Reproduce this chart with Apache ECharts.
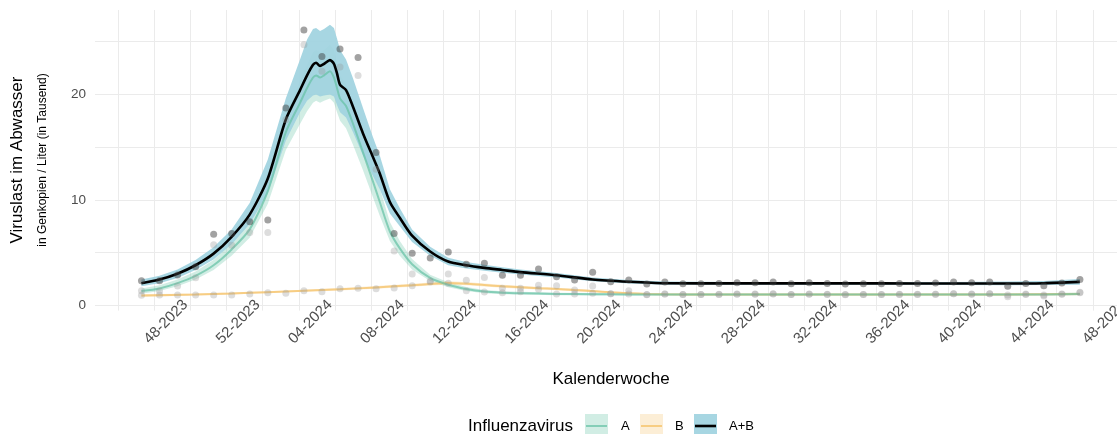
<!DOCTYPE html>
<html>
<head>
<meta charset="utf-8">
<script src="https://cdn.jsdelivr.net/npm/echarts@6/dist/echarts.min.js"></script>
<style>
  html, body { margin: 0; padding: 0; background: #fff; }
  #chart { width: 1117px; height: 434px; }
</style>
</head>
<body>
<div id="chart"></div>
<script>
// Kalenderwochen der Proben (Probenahme jeweils Mittwoch)
const weekLabels = [
  '47-2023', '48-2023', '49-2023', '50-2023', '51-2023', '52-2023',
  '01-2024', '02-2024', '03-2024', '04-2024', '05-2024', '06-2024', '07-2024', '08-2024',
  '09-2024', '10-2024', '11-2024', '12-2024', '13-2024', '14-2024', '15-2024', '16-2024',
  '17-2024', '18-2024', '19-2024', '20-2024', '21-2024', '22-2024', '23-2024', '24-2024',
  '25-2024', '26-2024', '27-2024', '28-2024', '29-2024', '30-2024', '31-2024', '32-2024',
  '33-2024', '34-2024', '35-2024', '36-2024', '37-2024', '38-2024', '39-2024', '40-2024',
  '41-2024', '42-2024', '43-2024', '44-2024', '45-2024', '46-2024', '47-2024'
];
const tickLabels = ['48-2023', '52-2023', '04-2024', '08-2024', '12-2024', '16-2024', '20-2024',
  '24-2024', '28-2024', '32-2024', '36-2024', '40-2024', '44-2024', '48-2024'];
const sampleDay = 2 / 7;

// gemessene Werte (Tausend Genkopien / Liter)
const pointsAB = [2.33, 2.33, 2.87, 3.66, 6.73, 6.82, 7.93, 8.08, 18.7, 26.1, 23.6, 24.3, 23.5, 14.5,
  6.82, 4.93, 4.48, 5.05, 3.89, 3.98, 2.84, 2.84, 3.44, 2.71, 2.4, 3.13, 2.24, 2.4, 2.02, 2.2,
  2.05, 2.05, 2.08, 2.14, 2.14, 2.2, 2.05, 2.14, 2.08, 2.02, 2.05, 2.05, 2.08, 2.08, 2.11, 2.2,
  2.14, 2.2, 1.8, 2.08, 1.86, 2.11, 2.46];
const pointsA = [1.38, 1.35, 1.83, 2.62, 5.75, 5.7, 6.9, 6.9, 17.6, 24.7, 22.2, 22.6, 21.8, 12.9,
  5.15, 2.97, 2.3, 2.97, 1.38, 1.26, 1.2, 1.29, 1.52, 1.07, 1.07, 1.14, 1.1, 1.07, 1.0, 1.07,
  1.03, 1.03, 1.05, 1.07, 1.07, 1.1, 1.03, 1.07, 1.05, 1.0, 1.03, 1.03, 1.05, 1.05, 1.06, 1.1,
  1.08, 1.1, 0.82, 1.07, 0.88, 1.07, 1.2];
const pointsB = [0.95, 0.98, 0.98, 0.98, 0.98, 0.98, 1.07, 1.2, 1.14, 1.38, 1.29, 1.57, 1.61, 1.57,
  1.64, 1.86, 2.2, 2.09, 2.37, 2.65, 1.61, 1.61, 1.9, 1.86, 1.45, 1.83, 1.1, 1.38, 1.02, 1.07,
  1.02, 1.02, 1.03, 1.05, 1.05, 1.08, 1.02, 1.05, 1.03, 1.02, 1.02, 1.02, 1.03, 1.03, 1.05, 1.1,
  1.06, 1.1, 0.98, 1.02, 0.98, 1.04, 1.25];

// geglaettete Verlaeufe mit Unsicherheitsband (x: Wochen ab KW 48-2023)
const abX = [-0.72, 0.28, 1.28, 2.28, 3.28, 4.28, 5.28, 6.28, 7.28, 8.07, 8.46, 8.79, 8.96, 9.18,
  9.4, 9.73, 9.95, 10.12, 10.29, 10.62, 11.01, 11.56, 12.1, 12.49, 13.05, 13.6, 14.28, 15.28,
  16.28, 17.28, 18.28, 19.28, 20.28, 22.28, 24.28, 26.28, 28.28, 32.28, 36.28, 40.28, 44.28,
  47.28, 49.28, 51.28];
const abLine = [2.1, 2.45, 3.0, 3.8, 4.9, 6.5, 8.6, 12.0, 17.6, 20.4, 21.8, 22.8, 23.0, 22.7, 22.9,
  23.25, 22.9, 22.0, 20.9, 20.4, 18.8, 16.3, 14.1, 12.5, 9.8, 8.3, 6.6, 5.1, 4.15, 3.8, 3.55,
  3.35, 3.15, 2.85, 2.45, 2.24, 2.1, 2.08, 2.08, 2.08, 2.07, 2.07, 2.1, 2.22];
const abLo = [1.8, 2.1, 2.6, 3.35, 4.35, 5.8, 7.7, 10.6, 15.6, 18.3, 19.4, 19.9, 20.0, 19.8, 19.9,
  20.0, 19.8, 19.0, 18.3, 17.8, 16.4, 14.2, 12.3, 11.0, 8.7, 7.5, 6.0, 4.7, 3.8, 3.5, 3.28, 3.1,
  2.92, 2.65, 2.28, 2.08, 1.95, 1.95, 1.94, 1.94, 1.92, 1.9, 1.92, 1.95];
const abHi = [2.45, 2.8, 3.4, 4.3, 5.5, 7.2, 9.7, 13.8, 19.6, 23.3, 25.2, 26.2, 26.3, 26.0, 26.2,
  26.6, 26.3, 25.3, 24.2, 23.3, 21.5, 18.7, 16.0, 14.2, 11.0, 9.2, 7.2, 5.55, 4.5, 4.1, 3.85,
  3.62, 3.4, 3.07, 2.63, 2.4, 2.25, 2.22, 2.22, 2.22, 2.22, 2.25, 2.3, 2.5];

const aX = abX;
const aLine = [1.35, 1.6, 2.1, 2.8, 3.8, 5.3, 7.2, 10.8, 16.4, 19.2, 20.6, 21.6, 21.8, 21.6, 21.8,
  22.2, 21.6, 20.6, 19.6, 18.9, 17.2, 14.5, 11.8, 9.8, 7.0, 5.4, 3.9, 2.6, 1.95, 1.55, 1.3, 1.2,
  1.15, 1.08, 1.05, 1.03, 1.02, 1.02, 1.02, 1.02, 1.02, 1.02, 1.03, 1.08];
const aLo = [1.1, 1.35, 1.8, 2.45, 3.35, 4.7, 6.4, 9.6, 14.7, 17.2, 18.4, 19.2, 19.4, 19.2, 19.4,
  19.6, 19.2, 18.3, 17.5, 16.8, 15.2, 12.8, 10.3, 8.5, 6.1, 4.7, 3.4, 2.3, 1.72, 1.37, 1.15,
  1.06, 1.02, 0.96, 0.94, 0.93, 0.92, 0.92, 0.92, 0.92, 0.92, 0.92, 0.92, 0.95];
const aHi = [1.6, 1.9, 2.45, 3.2, 4.3, 5.9, 8.0, 12.0, 18.2, 21.3, 22.8, 24.0, 24.2, 24.0, 24.2,
  24.7, 24.2, 23.0, 21.8, 21.0, 19.2, 16.2, 13.3, 11.1, 7.9, 6.1, 4.4, 2.9, 2.18, 1.73, 1.45,
  1.34, 1.28, 1.2, 1.16, 1.13, 1.12, 1.12, 1.12, 1.12, 1.12, 1.12, 1.14, 1.22];

const bX = [-0.72, 2.28, 4.28, 6.28, 8.28, 10.28, 12.28, 14.28, 15.28, 16.28, 17.28, 18.28, 19.28,
  20.28, 21.28, 22.28, 23.28, 24.28, 25.28, 26.28, 27.28, 28.28, 30.28, 40.28, 47.28, 51.28];
const bLine = [0.92, 1.02, 1.12, 1.25, 1.38, 1.52, 1.7, 1.9, 2.02, 2.12, 2.05, 1.92, 1.8, 1.72,
  1.63, 1.55, 1.45, 1.35, 1.23, 1.15, 1.08, 1.04, 1.02, 1.02, 1.02, 1.08];
const bLo = [0.8, 0.92, 1.03, 1.16, 1.28, 1.4, 1.56, 1.75, 1.87, 1.96, 1.9, 1.78, 1.66, 1.58, 1.5,
  1.43, 1.34, 1.25, 1.14, 1.07, 1.0, 0.96, 0.94, 0.94, 0.93, 0.96];
const bHi = [1.05, 1.12, 1.21, 1.34, 1.48, 1.64, 1.84, 2.05, 2.17, 2.28, 2.2, 2.06, 1.94, 1.86,
  1.76, 1.67, 1.56, 1.45, 1.32, 1.23, 1.16, 1.12, 1.1, 1.1, 1.11, 1.2];

const yTicks = [0, 5, 10, 15, 20, 25];
const yLabels = [0, 10, 20];

const FONT = 'Liberation Sans, Arial, sans-serif';

// "KW-Jahr" -> Wochen relativ zu KW 48-2023
function weekIndex(label) {
  const [w, y] = label.split('-').map(Number);
  return y === 2023 ? w - 48 : w + 4;
}

const xTicks = [];
tickLabels.forEach((l, i) => {
  const v = weekIndex(l);
  if (i === 0) xTicks.push(v - 2);
  xTicks.push(v);
  if (i < tickLabels.length - 1) xTicks.push(v + 2);
});

const pts = (vals) => vals.map((v, i) => [weekIndex(weekLabels[i]) + sampleDay, v]);
const xy = (xs, vals) => xs.map((x, i) => [x, vals[i]]);

function ribbon(name, xs, lo, hi, color, z) {
  return {
    name, type: 'custom', z, silent: true,
    data: [[xs[0], lo[0]]],
    renderItem: (params, api) => {
      const points = [];
      xs.forEach((x, i) => points.push(api.coord([x, hi[i]])));
      for (let i = xs.length - 1; i >= 0; i--) points.push(api.coord([xs[i], lo[i]]));
      return { type: 'polygon', shape: { points }, style: { fill: color } };
    }
  };
}

function line(name, xs, vals, color, width, z) {
  return {
    name, type: 'line', z, data: xy(xs, vals), showSymbol: false, smooth: 0.25,
    lineStyle: { color, width }, silent: true
  };
}

function dots(name, vals, color, z) {
  return {
    name, type: 'scatter', z, data: pts(vals), symbolSize: 7,
    itemStyle: { color }, silent: true
  };
}

const colA = 'rgba(102,194,165,0.72)';
const colB = 'rgba(245,196,110,0.8)';
const bandA = 'rgba(102,194,165,0.3)';
const bandB = 'rgba(245,200,120,0.3)';
const bandAB = 'rgba(160,210,224,0.92)';

const option = {
  animation: false,
  backgroundColor: '#fff',
  grid: { left: 95, right: 0, top: 10, bottom: 123.4, outerBoundsMode: 'none' },
  xAxis: {
    type: 'value', min: -3.29, max: 53.34,
    axisLine: { show: false },
    axisTick: { show: false, customValues: xTicks },
    splitLine: { show: true, lineStyle: { color: '#ebebeb', width: 1 } },
    axisLabel: {
      customValues: tickLabels.map(weekIndex),
      formatter: (v) => tickLabels.find(l => weekIndex(l) === v) || '',
      rotate: 45, align: 'center', verticalAlign: 'middle',
      padding: [0, 0, 0, 33], margin: 23,
      color: '#4d4d4d', fontSize: 15, fontFamily: FONT
    }
  },
  yAxis: {
    type: 'value', min: -0.5, max: 28,
    axisLine: { show: false },
    axisTick: { show: false, customValues: yTicks },
    splitLine: { show: true, lineStyle: { color: '#ebebeb', width: 1 } },
    axisLabel: { customValues: yLabels, margin: 9, color: '#4d4d4d', fontSize: 13.5, fontFamily: FONT }
  },
  series: [
    ribbon('A band', aX, aLo, aHi, bandA, 1),
    ribbon('B band', bX, bLo, bHi, bandB, 1),
    ribbon('A+B band', abX, abLo, abHi, bandAB, 2),
    line('B', bX, bLine, colB, 2, 3),
    line('A', aX, aLine, colA, 2, 4),
    line('A+B', abX, abLine, '#000', 2.6, 5),
    dots('A Messung', pointsA, 'rgba(150,150,150,0.4)', 6),
    dots('B Messung', pointsB, 'rgba(150,150,150,0.4)', 6),
    dots('A+B Messung', pointsAB, 'rgba(60,60,60,0.6)', 7)
  ],
  graphic: [
    { type: 'text', x: 17, y: 160, rotation: Math.PI / 2,
      style: { text: 'Viruslast im Abwasser', fontSize: 17, fontFamily: FONT, fill: '#000', align: 'center', verticalAlign: 'middle' } },
    { type: 'text', x: 42.5, y: 160, rotation: Math.PI / 2,
      style: { text: 'in Genkopien / Liter (in Tausend)', fontSize: 12, fontFamily: FONT, fill: '#000', align: 'center', verticalAlign: 'middle' } },
    { type: 'text', x: 611, y: 379,
      style: { text: 'Kalenderwoche', fontSize: 17, fontFamily: FONT, fill: '#000', align: 'center', verticalAlign: 'middle' } },
    // Legende
    { type: 'text', x: 468, y: 426,
      style: { text: 'Influenzavirus', fontSize: 17, fontFamily: FONT, fill: '#000', align: 'left', verticalAlign: 'middle' } },
    { type: 'rect', shape: { x: 585, y: 414, width: 23, height: 23 }, style: { fill: bandA } },
    { type: 'line', shape: { x1: 586, y1: 426, x2: 607, y2: 426 }, style: { stroke: colA, lineWidth: 2 } },
    { type: 'text', x: 621, y: 426,
      style: { text: 'A', fontSize: 13, fontFamily: FONT, fill: '#000', align: 'left', verticalAlign: 'middle' } },
    { type: 'rect', shape: { x: 640, y: 414, width: 23, height: 23 }, style: { fill: bandB } },
    { type: 'line', shape: { x1: 641, y1: 426, x2: 662, y2: 426 }, style: { stroke: colB, lineWidth: 2 } },
    { type: 'text', x: 675, y: 426,
      style: { text: 'B', fontSize: 13, fontFamily: FONT, fill: '#000', align: 'left', verticalAlign: 'middle' } },
    { type: 'rect', shape: { x: 694, y: 414, width: 23, height: 23 }, style: { fill: bandAB } },
    { type: 'line', shape: { x1: 695, y1: 426, x2: 716, y2: 426 }, style: { stroke: '#000', lineWidth: 2.6 } },
    { type: 'text', x: 729, y: 426,
      style: { text: 'A+B', fontSize: 13, fontFamily: FONT, fill: '#000', align: 'left', verticalAlign: 'middle' } }
  ]
};

const chart = echarts.init(document.getElementById('chart'));
chart.setOption(option);
</script>
</body>
</html>
